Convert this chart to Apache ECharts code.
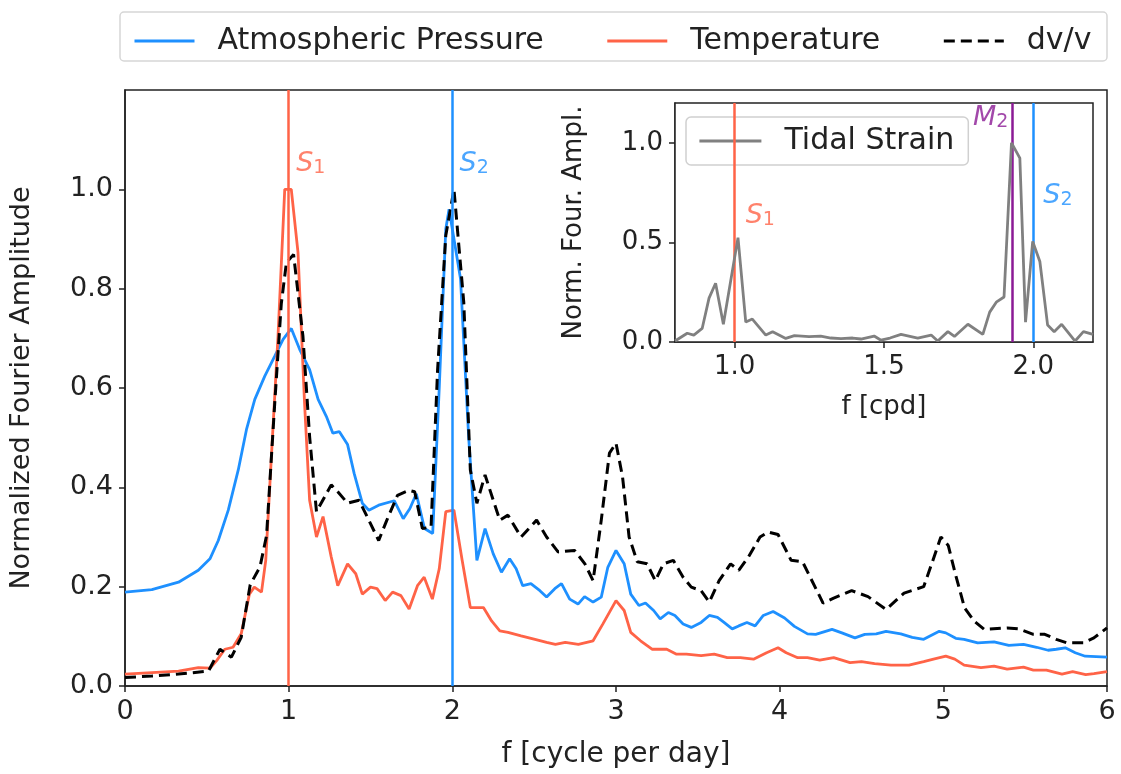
<!DOCTYPE html>
<html>
<head>
<meta charset="utf-8">
<script src="https://cdn.jsdelivr.net/npm/echarts@6/dist/echarts.min.js"></script>
<style>
  html, body { margin: 0; padding: 0; background: #fff; }
  #chart { width: 1121px; height: 774px; }
</style>
</head>
<body>
<div id="chart"></div>
<script>
// frequency [cpd] and normalized amplitude
const pressureF = [0, 0.164, 0.327, 0.448, 0.519, 0.57, 0.631, 0.692, 0.742, 0.793, 0.854, 0.915, 0.966, 1.016, 1.067, 1.128, 1.18, 1.23, 1.27, 1.31, 1.36, 1.40, 1.45, 1.49, 1.55, 1.645, 1.70, 1.74, 1.78, 1.83, 1.88, 1.92, 1.96, 1.98, 2.05, 2.1, 2.15, 2.2, 2.25, 2.30, 2.35, 2.39, 2.43, 2.48, 2.535, 2.576, 2.626, 2.667, 2.717, 2.768, 2.808, 2.86, 2.91, 2.95, 3.0, 3.05, 3.09, 3.14, 3.18, 3.23, 3.27, 3.32, 3.36, 3.41, 3.46, 3.52, 3.57, 3.62, 3.66, 3.71, 3.75, 3.80, 3.85, 3.90, 3.96, 4.03, 4.09, 4.17, 4.22, 4.32, 4.38, 4.46, 4.52, 4.59, 4.65, 4.74, 4.81, 4.88, 4.975, 5.015, 5.076, 5.127, 5.21, 5.31, 5.40, 5.49, 5.57, 5.64, 5.69, 5.745, 5.806, 5.867, 6.0]
const pressureAmp = [0.189, 0.194, 0.209, 0.233, 0.256, 0.293, 0.354, 0.435, 0.516, 0.577, 0.624, 0.664, 0.698, 0.72, 0.678, 0.637, 0.577, 0.543, 0.509, 0.512, 0.486, 0.428, 0.368, 0.354, 0.364, 0.373, 0.337, 0.357, 0.387, 0.317, 0.307, 0.6, 0.92, 0.96, 0.82, 0.5, 0.253, 0.317, 0.266, 0.229, 0.256, 0.236, 0.202, 0.206, 0.192, 0.179, 0.196, 0.206, 0.175, 0.165, 0.18, 0.169, 0.179, 0.239, 0.273, 0.246, 0.185, 0.162, 0.167, 0.152, 0.135, 0.148, 0.142, 0.125, 0.118, 0.128, 0.142, 0.138, 0.128, 0.115, 0.121, 0.128, 0.121, 0.142, 0.15, 0.137, 0.12, 0.105, 0.104, 0.114, 0.107, 0.097, 0.104, 0.105, 0.11, 0.105, 0.098, 0.094, 0.11, 0.107, 0.096, 0.094, 0.087, 0.089, 0.082, 0.084, 0.078, 0.072, 0.074, 0.077, 0.067, 0.06, 0.058]

const tempF = [0, 0.164, 0.327, 0.448, 0.52, 0.56, 0.61, 0.66, 0.71, 0.76, 0.79, 0.834, 0.86, 0.89, 0.935, 0.976, 1.016, 1.057, 1.097, 1.128, 1.17, 1.21, 1.26, 1.30, 1.36, 1.41, 1.45, 1.50, 1.54, 1.59, 1.635, 1.686, 1.736, 1.787, 1.828, 1.878, 1.92, 1.96, 2.01, 2.06, 2.11, 2.19, 2.24, 2.29, 2.34, 2.42, 2.505, 2.576, 2.63, 2.69, 2.77, 2.86, 2.92, 3.0, 3.05, 3.09, 3.15, 3.22, 3.31, 3.37, 3.43, 3.52, 3.60, 3.68, 3.76, 3.84, 3.92, 3.99, 4.04, 4.11, 4.17, 4.245, 4.33, 4.43, 4.5, 4.58, 4.68, 4.79, 4.88, 4.94, 5.015, 5.07, 5.127, 5.23, 5.31, 5.39, 5.49, 5.55, 5.63, 5.725, 5.79, 5.87, 5.92, 6.0]
const tempAmp = [0.024, 0.027, 0.03, 0.037, 0.036, 0.051, 0.074, 0.078, 0.105, 0.185, 0.199, 0.189, 0.253, 0.435, 0.705, 1.0, 1.0, 0.873, 0.57, 0.374, 0.3, 0.341, 0.26, 0.202, 0.246, 0.226, 0.185, 0.199, 0.196, 0.172, 0.189, 0.182, 0.155, 0.202, 0.219, 0.175, 0.236, 0.351, 0.354, 0.253, 0.158, 0.158, 0.131, 0.111, 0.108, 0.101, 0.094, 0.088, 0.084, 0.088, 0.084, 0.091, 0.125, 0.172, 0.152, 0.108, 0.091, 0.074, 0.074, 0.064, 0.064, 0.061, 0.064, 0.057, 0.057, 0.054, 0.067, 0.077, 0.067, 0.057, 0.057, 0.052, 0.057, 0.047, 0.049, 0.045, 0.042, 0.042, 0.049, 0.054, 0.06, 0.054, 0.042, 0.037, 0.04, 0.034, 0.038, 0.032, 0.032, 0.024, 0.029, 0.023, 0.025, 0.029]

const dvvF = [0, 0.164, 0.327, 0.51, 0.58, 0.65, 0.71, 0.765, 0.825, 0.865, 0.915, 0.955, 0.986, 1.03, 1.087, 1.128, 1.17, 1.26, 1.30, 1.36, 1.43, 1.50, 1.55, 1.60, 1.665, 1.736, 1.77, 1.817, 1.87, 1.91, 1.96, 2.01, 2.07, 2.11, 2.15, 2.2, 2.25, 2.29, 2.34, 2.42, 2.515, 2.576, 2.646, 2.747, 2.81, 2.86, 2.91, 2.96, 3.0, 3.04, 3.08, 3.13, 3.19, 3.24, 3.29, 3.35, 3.41, 3.46, 3.52, 3.57, 3.63, 3.70, 3.75, 3.81, 3.88, 3.93, 3.99, 4.07, 4.14, 4.265, 4.33, 4.44, 4.54, 4.65, 4.76, 4.88, 4.93, 4.985, 5.03, 5.07, 5.13, 5.19, 5.25, 5.39, 5.46, 5.55, 5.62, 5.69, 5.755, 5.856, 5.92, 6.0]
const dvvAmp = [0.017, 0.02, 0.024, 0.03, 0.074, 0.058, 0.098, 0.204, 0.24, 0.303, 0.57, 0.77, 0.852, 0.869, 0.705, 0.502, 0.351, 0.405, 0.391, 0.368, 0.374, 0.327, 0.293, 0.334, 0.384, 0.394, 0.391, 0.317, 0.32, 0.637, 0.907, 1.0, 0.772, 0.435, 0.368, 0.425, 0.374, 0.334, 0.344, 0.3, 0.334, 0.3, 0.27, 0.273, 0.246, 0.212, 0.334, 0.469, 0.489, 0.421, 0.3, 0.25, 0.246, 0.212, 0.246, 0.253, 0.219, 0.199, 0.192, 0.169, 0.212, 0.246, 0.233, 0.26, 0.3, 0.31, 0.305, 0.253, 0.25, 0.167, 0.177, 0.192, 0.18, 0.154, 0.187, 0.2, 0.247, 0.3, 0.283, 0.23, 0.157, 0.13, 0.114, 0.117, 0.115, 0.104, 0.104, 0.094, 0.087, 0.087, 0.097, 0.117]

const tidalF = [0.80, 0.841, 0.863, 0.891, 0.914, 0.936, 0.962, 1.011, 1.037, 1.059, 1.104, 1.127, 1.171, 1.2, 1.249, 1.288, 1.322, 1.356, 1.395, 1.423, 1.467, 1.49, 1.52, 1.557, 1.613, 1.658, 1.68, 1.714, 1.736, 1.781, 1.831, 1.854, 1.876, 1.902, 1.927, 1.955, 1.974, 1.998, 2.022, 2.048, 2.07, 2.095, 2.14, 2.168, 2.2]
const tidalAmp = [0.005, 0.044, 0.035, 0.068, 0.22, 0.295, 0.089, 0.524, 0.1, 0.115, 0.035, 0.052, 0.018, 0.032, 0.027, 0.03, 0.02, 0.017, 0.02, 0.015, 0.03, 0.009, 0.02, 0.038, 0.02, 0.035, 0.005, 0.052, 0.028, 0.089, 0.038, 0.15, 0.2, 0.226, 1.0, 0.923, 0.1, 0.505, 0.404, 0.085, 0.052, 0.089, 0.005, 0.052, 0.038]

// tidal constituents [cpd]
const S1 = 1.0
const S2 = 2.0
const M2 = 1.9323

const mainTicksY = [0, 0.2, 0.4, 0.6, 0.8, 1.0]
const insetTicksX = [1.0, 1.5, 2.0]
const insetTicksY = [0, 0.5, 1.0]

// text annotations: [name, sub, f, amp]
const mainNotes = [['S', '1', 1.052, 1.05], ['S', '2', 2.05, 1.05]]
const insetNotes = [['S', '1', 1.04, 0.63], ['M', '2', 1.92, 1.12], ['S', '2', 2.037, 0.73]]

const BLUE = '#1e90ff'
const RED = '#ff6347'
const PURPLE = '#8b1a95'
const GRAY = '#808080'
const FONT = 'DejaVu Sans'
const INK = '#222'

const pairs = (xs, ys) => xs.map((x, i) => [x, ys[i]])

function noteSeries(notes, colors, xi, aligns) {
  return notes.map((n, i) => ({
    type: 'scatter',
    xAxisIndex: xi,
    yAxisIndex: xi,
    symbolSize: 2,
    silent: true,
    itemStyle: { color: 'rgba(0,0,0,0)' },
    z: 10,
    data: [[n[2], n[3]]],
    label: {
      show: true,
      position: [0, 0],
      align: aligns[i],
      verticalAlign: 'middle',
      formatter: '{m|' + n[0] + '}{s|' + n[1] + '}',
      rich: {
        m: { fontFamily: FONT, fontStyle: 'italic', fontSize: 27, color: colors[i], lineHeight: 28 },
        s: { fontFamily: FONT, fontSize: 19, color: colors[i], verticalAlign: 'bottom', lineHeight: 19 }
      }
    }
  }))
}

function vline(x, color) {
  return { xAxis: x, lineStyle: { color: color, width: 2.5, type: 'solid' } }
}

const chart = echarts.init(document.getElementById('chart'))

const axisStyle = { lineStyle: { color: INK, width: 1.5 } }
const tickStyle = { show: true, length: 6, lineStyle: { color: INK, width: 1.5 } }

chart.setOption({
  animation: false,
  backgroundColor: '#fff',
  textStyle: { fontFamily: FONT },
  graphic: [{
    type: 'rect',
    z: 0,
    shape: { x: 120, y: 12, width: 987, height: 49, r: 4 },
    style: { fill: '#fff', stroke: '#d6d6d6', lineWidth: 1.5 }
  }],
  legend: [{
    data: ['Atmospheric Pressure', 'Temperature', 'dv/v'],
    left: 128,
    top: 21,
    itemWidth: 60,
    itemHeight: 14,
    itemGap: 62,
    itemStyle: { opacity: 0 },
    lineStyle: { width: 3 },
    textStyle: { fontFamily: FONT, fontSize: 30, color: INK, padding: [0, 0, 0, 18] }
  }, {
    data: ['Tidal Strain'],
    left: 686,
    top: 117,
    padding: [9, 14, 9, 12],
    itemWidth: 62,
    itemHeight: 14,
    itemStyle: { opacity: 0 },
    lineStyle: { width: 2.8 },
    backgroundColor: 'rgba(255,255,255,0.8)',
    borderColor: '#d0d0d0',
    borderWidth: 1.5,
    borderRadius: 5,
    textStyle: { fontFamily: FONT, fontSize: 30, color: INK, padding: [0, 0, 0, 18] }
  }],
  grid: [
    { left: 121, right: 14, top: 90, bottom: 82, show: true, borderColor: INK, borderWidth: 1.5, backgroundColor: '#fff' },
    { left: 675, right: 28, top: 103, bottom: 432, show: true, borderColor: INK, borderWidth: 1.5, backgroundColor: '#fff', z: 3 }
  ],
  xAxis: [{
    type: 'value',
    gridIndex: 0,
    min: 0,
    max: 6,
    interval: 1,
    splitLine: { show: false },
    axisLine: axisStyle,
    axisTick: tickStyle,
    axisLabel: { fontSize: 27, color: INK, margin: 12 },
    name: 'f [cycle per day]',
    nameLocation: 'middle',
    nameGap: 55,
    nameTextStyle: { fontSize: 28, color: INK }
  }, {
    type: 'value',
    gridIndex: 1,
    min: 0.8,
    max: 2.2,
    splitLine: { show: false },
    axisLine: axisStyle,
    axisTick: Object.assign({}, tickStyle, { customValues: insetTicksX }),
    axisLabel: { customValues: insetTicksX, formatter: v => v.toFixed(1), fontSize: 26, color: INK, margin: 12 },
    name: 'f [cpd]',
    nameLocation: 'middle',
    nameGap: 52,
    nameTextStyle: { fontSize: 26, color: INK }
  }],
  yAxis: [{
    type: 'value',
    gridIndex: 0,
    min: 0,
    max: 1.2,
    splitLine: { show: false },
    axisLine: axisStyle,
    axisTick: Object.assign({}, tickStyle, { customValues: mainTicksY }),
    axisLabel: { customValues: mainTicksY, formatter: v => v.toFixed(1), fontSize: 27, color: INK, margin: 12 },
    name: 'Normalized Fourier Amplitude',
    nameLocation: 'middle',
    nameGap: 90,
    nameTextStyle: { fontSize: 27, color: INK }
  }, {
    type: 'value',
    gridIndex: 1,
    min: 0,
    max: 1.2,
    splitLine: { show: false },
    axisLine: axisStyle,
    axisTick: Object.assign({}, tickStyle, { customValues: insetTicksY }),
    axisLabel: { customValues: insetTicksY, formatter: v => v.toFixed(1), fontSize: 26, color: INK, margin: 12 },
    name: 'Norm. Four. Ampl.',
    nameLocation: 'middle',
    nameGap: 88,
    nameTextStyle: { fontSize: 26, color: INK }
  }],
  series: [{
    name: 'Atmospheric Pressure',
    type: 'line',
    symbol: 'none',
    color: BLUE,
    lineStyle: { color: BLUE, width: 2.8 },
    data: pairs(pressureF, pressureAmp),
    markLine: { silent: true, symbol: ['none', 'none'], label: { show: false }, data: [vline(S2, BLUE)] }
  }, {
    name: 'Temperature',
    type: 'line',
    symbol: 'none',
    color: RED,
    lineStyle: { color: RED, width: 2.8 },
    data: pairs(tempF, tempAmp),
    markLine: { silent: true, symbol: ['none', 'none'], label: { show: false }, data: [vline(S1, RED)] }
  }, {
    name: 'dv/v',
    type: 'line',
    symbol: 'none',
    color: '#000',
    lineStyle: { color: '#000', width: 3, type: [11, 6] },
    data: pairs(dvvF, dvvAmp)
  }, {
    name: 'Tidal Strain',
    type: 'line',
    xAxisIndex: 1,
    yAxisIndex: 1,
    symbol: 'none',
    color: GRAY,
    z: 5,
    lineStyle: { color: GRAY, width: 2.8 },
    data: pairs(tidalF, tidalAmp),
    markLine: {
      silent: true,
      symbol: ['none', 'none'],
      label: { show: false },
      data: [vline(S1, RED), vline(M2, PURPLE), vline(S2, BLUE)]
    }
  }]
    .concat(noteSeries(mainNotes, [RED, BLUE], 0, ['left', 'left']))
    .concat(noteSeries(insetNotes, [RED, PURPLE, BLUE], 1, ['left', 'right', 'left']))
})
</script>
</body>
</html>
